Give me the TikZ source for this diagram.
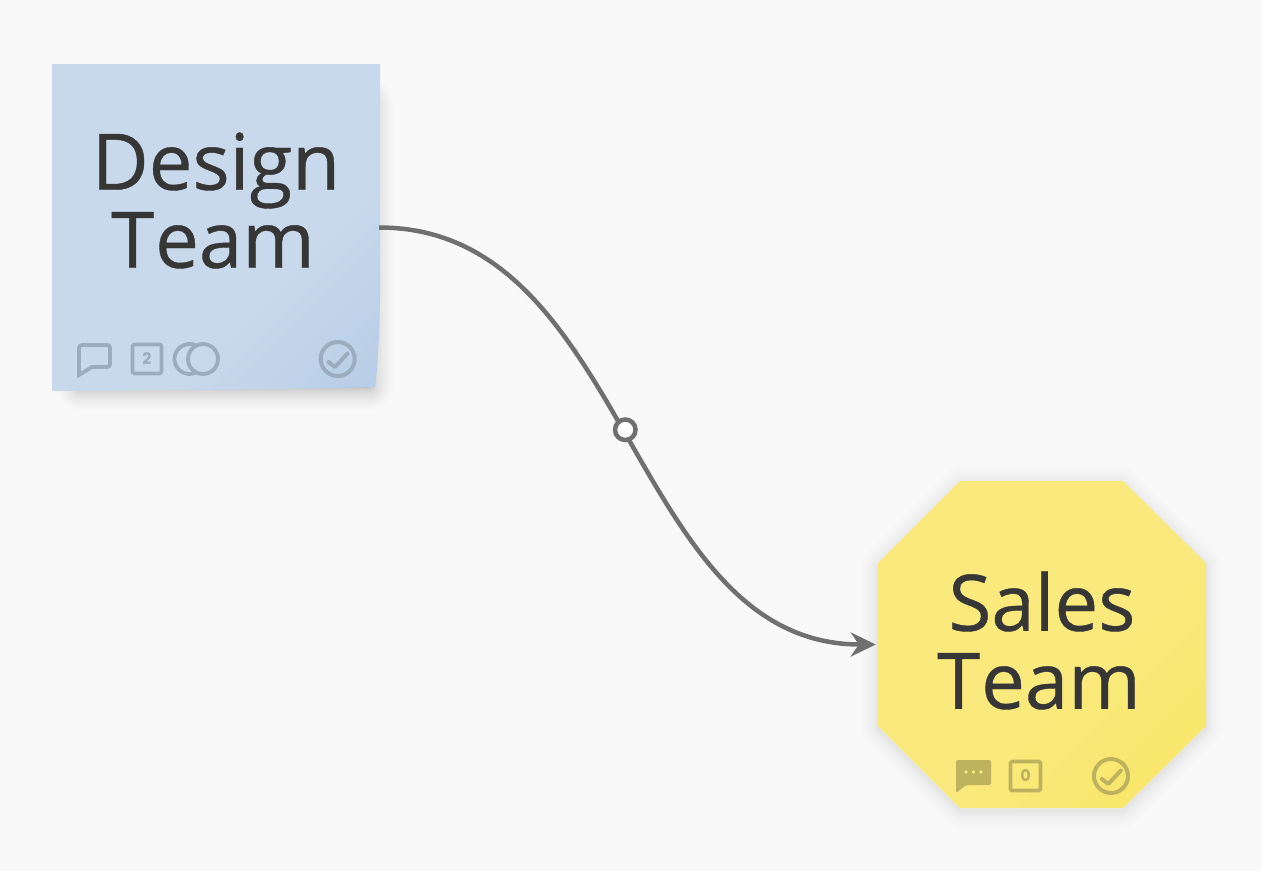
\documentclass[tikz,border=0pt]{standalone}
\usepackage{fontspec}
\setmainfont{Open Sans}[FakeBold=0.5]
\newfontfamily\digitfont{Poppins}
\usetikzlibrary{arrows.meta}
\definecolor{bgc}{RGB}{249,249,249}
\definecolor{linec}{RGB}{112,112,112}
\definecolor{txtc}{RGB}{54,54,54}
\definecolor{blueA}{RGB}{200,217,236}
\definecolor{blueB}{RGB}{172,197,226}
\definecolor{yelA}{RGB}{250,234,126}
\definecolor{yelB}{RGB}{246,227,88}
\definecolor{iconB}{RGB}{155,172,190}
\definecolor{iconY}{RGB}{191,178,95}
\pgfdeclarehorizontalshading{bluegrad}{100bp}{color(0bp)=(blueA); color(62bp)=(blueA); color(100bp)=(blueB)}
\pgfdeclarehorizontalshading{yelgrad}{100bp}{color(0bp)=(yelA); color(55bp)=(yelA); color(100bp)=(yelB)}
\newcommand{\teamword}{T\kern1pt eam\rule{6pt}{0pt}}
\tikzset{
  titletext/.style={font=\fontsize{78}{78}\selectfont,text=txtc,align=center,inner sep=0pt},
  anchorbox/.style={minimum width=328pt,minimum height=328pt,inner sep=0pt},
  link/.style={draw=linec,line width=4.5pt,shorten >=2pt,shorten <=-1pt,-{Stealth[length=25pt,width=24pt,inset=8pt]}},
  midring/.style={circle,draw=linec,fill=white,line width=4.5pt,minimum size=20.5pt,inner sep=0pt},
  iconline/.style={line width=3.8pt,line join=round,fill=none},
  digit/.style={font=\digitfont\fontsize{16}{16}\selectfont\bfseries,inner sep=0pt},
}
\newcommand{\designpath}{(52,64) -- (380,64) -- (380,300) .. controls (379,340) and (378,365) .. (375,387) .. controls (300,389) and (150,391) .. (52,391) -- cycle}
\newcommand{\salespath}{(960,481) -- (1123,481) -- (1206,563) -- (1206,726) -- (1123,808) -- (960,808) -- (878,726) -- (878,563) -- cycle}
\begin{document}
\begin{tikzpicture}[x=1pt,y=-1pt]
\useasboundingbox (0,0) rectangle (1262,871);
\fill[bgc] (0,0) rectangle (1262,871);
% shadows
\begin{scope}[shift={(5,12)}]
\foreach \i [evaluate=\i as \w using \i*\i/20] in {1,...,30}{
  \draw[black,opacity=0.008,line width=\w pt,line join=round] (75,90) -- (365,90) -- (365,375) -- (75,375) -- cycle;
}
\end{scope}
\begin{scope}[shift={(0,3)}]
\foreach \i [evaluate=\i as \w using \i*\i/16] in {1,...,24}{
  \draw[black,opacity=0.005,line width=\w pt,line join=round] \salespath;
}
\end{scope}
% bodies
\path[shade,shading=bluegrad,shading angle=-45] \designpath;
\path[shade,shading=yelgrad,shading angle=-45] \salespath;
% anchor nodes
\node[anchorbox] (design) at (216,227.5) {};
\node[anchorbox] (sales) at (1042,644.5) {};
% titles
\node[titletext] (designtitle) at (216,200.5) {Design\\\teamword};
\node[titletext] (salestitle) at (1042,640.5) {Sales\\\teamword};
% connector
\draw[link] (design.east) .. controls +(250,0) and +(-250,0) .. (sales.west)
  node[midring,pos=0.49] (joint) {};
% design icons
\draw[iconB,iconline,line join=miter] (79,367) [rounded corners=3pt] -- (79,345) -- (110,345) -- (110,367) [sharp corners] -- (92,367) -- (79,375) -- cycle;
\draw[iconB,iconline,rounded corners=1.5pt] (132.5,344.5) rectangle (161.5,373.5);
\node[digit,text=iconB] (designcount) at (147,359) {2};
\draw[iconB,iconline] (203,359) circle (15);
\draw[iconB,iconline] ({189.5+15*cos(63)},{359-15*sin(63)}) arc[start angle=-63,end angle=-297,radius=15];
\draw[iconB,line width=4pt] (337.7,359) circle (17);
\draw[iconB,line width=4pt,line cap=round,line join=round] (328.5,362) -- (335,367) -- (347.5,353.5);
% sales icons
\fill[iconY,rounded corners=2pt] (956,760) -- (991,760) -- (991,785) -- (966,785) -- (956,793) -- cycle;
\fill[yelA] (966,772) circle (1.8) (973.5,772) circle (1.8) (981,772) circle (1.8);
\draw[iconY,iconline,rounded corners=1.5pt] (1010.5,761.5) rectangle (1040.5,790.5);
\node[digit,text=iconY] (salescount) at (1025.5,776) {0};
\draw[iconY,line width=4pt] (1111,776) circle (17);
\draw[iconY,line width=4pt,line cap=round,line join=round] (1101.8,779) -- (1108.3,784) -- (1120.8,770.5);
\end{tikzpicture}
\end{document}
